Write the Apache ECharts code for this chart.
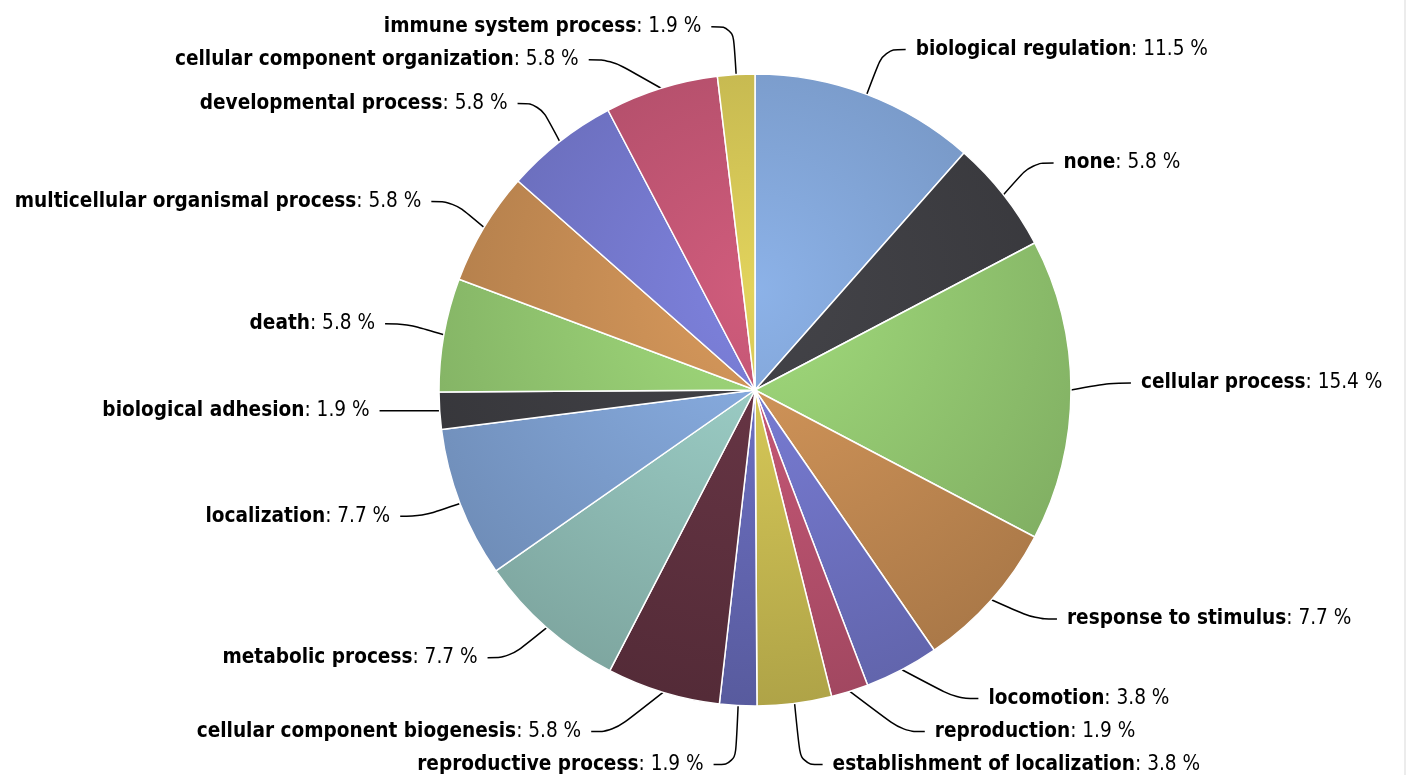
<!DOCTYPE html>
<html>
<head>
<meta charset="utf-8">
<script src="https://cdn.jsdelivr.net/npm/echarts@6/dist/echarts.min.js"></script>
<style>
  html, body { margin: 0; padding: 0; background: #fff; }
  #chart { width: 1406px; height: 775px; box-sizing: border-box; border-right: 2px solid #ececec; }
</style>
</head>
<body>
<div id="chart"></div>
<script>
// GO categories, clockwise from 12 o'clock
const categories = [
  'biological regulation', 'none', 'cellular process', 'response to stimulus',
  'locomotion', 'reproduction', 'establishment of localization', 'reproductive process',
  'cellular component biogenesis', 'metabolic process', 'localization', 'biological adhesion',
  'death', 'multicellular organismal process', 'developmental process',
  'cellular component organization', 'immune system process'
];
const percents = [11.5, 5.8, 15.4, 7.7, 3.8, 1.9, 3.8, 1.9, 5.8, 7.7, 7.7, 1.9, 5.8, 5.8, 5.8, 5.8, 1.9];

// palette (old highcharts look, as seen on screen)
const palette = ['#8cb2e8', '#444449', '#a2dc7c', '#d99a5c', '#7e82de', '#d05c7c',
  '#e2d35c', '#7275cc', '#6c3848', '#a2d6ce'];

const FONT = '"Liberation Sans Narrow", "DejaVu Sans Condensed", "Noto Sans", sans-serif';
const FS = 20.6;
const LH = 31;

function darker(hex, k) {
  const n = parseInt(hex.slice(1), 16);
  const r = Math.round(((n >> 16) & 255) * k);
  const g = Math.round(((n >> 8) & 255) * k);
  const b = Math.round((n & 255) * k);
  return 'rgb(' + r + ',' + g + ',' + b + ')';
}

const chart = echarts.init(document.getElementById('chart'));

const option = {
  animation: false,
  backgroundColor: '#fff',
  series: [
    {
      type: 'pie',
      left: 0,
      top: 0,
      right: 0,
      bottom: -6,
      center: [755, 390],
      radius: 316,
      startAngle: 90,
      clockwise: true,
      avoidLabelOverlap: true,
      itemStyle: { borderColor: '#fff', borderWidth: 1.5 },
      label: {
        show: true,
        color: '#000',
        fontFamily: FONT,
        fontSize: FS,
        lineHeight: LH,
        distanceToLabelLine: 10,
        formatter: (p) => '{n|' + p.name + '}{v|: ' + p.value.toFixed(1) + ' %}',
        rich: {
          n: { fontWeight: 'bold', fontSize: FS, lineHeight: LH, color: '#000', fontFamily: FONT },
          v: { fontSize: FS, lineHeight: LH, color: '#000', fontFamily: FONT }
        }
      },
      labelLine: {
        show: true,
        length: 48,
        length2: 22,
        smooth: 0.4,
        lineStyle: { color: '#000', width: 1.5 }
      },
      data: categories.map((name, i) => {
        const base = palette[i % palette.length];
        return {
          name: name,
          value: percents[i],
          itemStyle: {
            color: new echarts.graphic.RadialGradient(755, 290, 480, [
              { offset: 0, color: base },
              { offset: 1, color: darker(base, 0.74) }
            ], true)
          }
        };
      })
    }
  ]
};

chart.setOption(option);
</script>
</body>
</html>
